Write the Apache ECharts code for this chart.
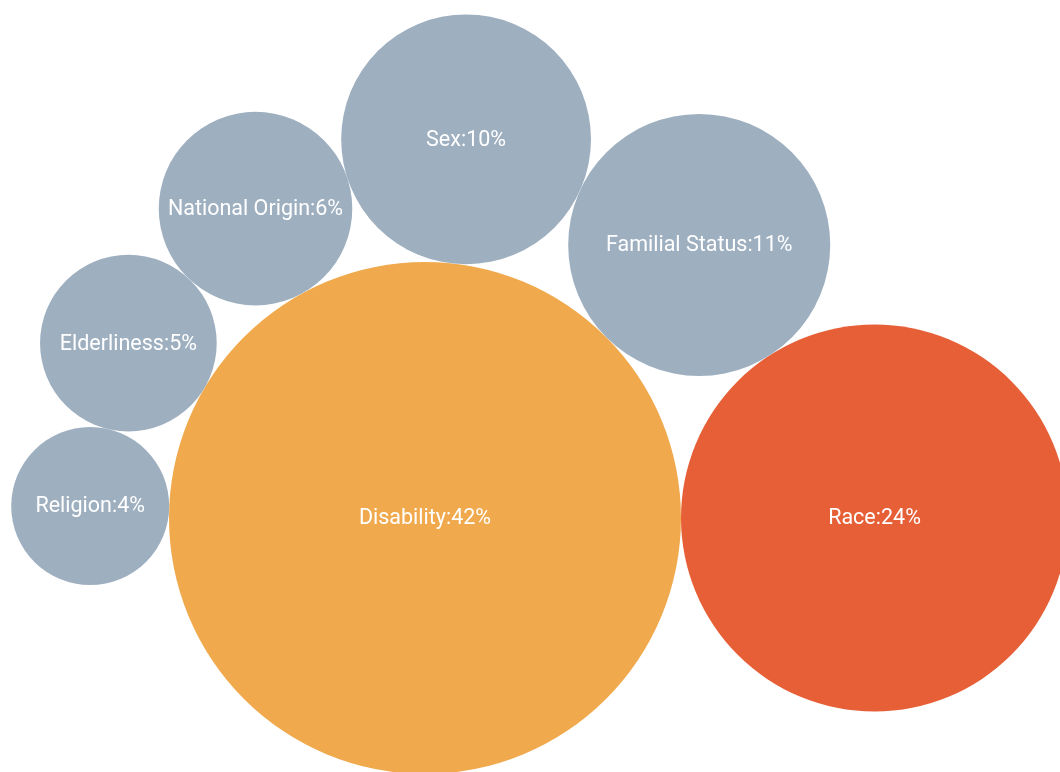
<!DOCTYPE html>
<html>
<head>
<meta charset="utf-8">
<script src="https://cdn.jsdelivr.net/npm/echarts@6/dist/echarts.min.js"></script>
<style>html,body{margin:0;padding:0;background:#fff}#c{width:1060px;height:772px}</style>
</head>
<body>
<div id="c"></div>
<script>
// Data (in packing order: largest first, then around it)
const categories = ['Disability', 'Race', 'Familial Status', 'Sex', 'National Origin', 'Elderliness', 'Religion'];
const values = [42, 24, 11, 10, 6, 5, 4];
const colors = ['#F0A94C', '#E65F37', '#9EAFC0', '#9EAFC0', '#9EAFC0', '#9EAFC0', '#9EAFC0'];

// radius scale (in axis units): area proportional to value
const R_MAX = 256;
const radius = v => R_MAX * Math.sqrt(v / Math.max(...values));

// Front-chain packing: each circle tangent to the central one and the previous one
function pack() {
  const out = [];
  const r0 = radius(values[0]);
  out.push({x: 0, y: 0, r: r0});
  const r1 = radius(values[1]);
  out.push({x: r0 + r1, y: 0, r: r1});
  for (let i = 2; i < values.length; i++) {
    const a = out[0], b = out[i - 1], r = radius(values[i]);
    const dA = a.r + r, dB = b.r + r;
    const dx = b.x - a.x, dy = b.y - a.y;
    const d = Math.hypot(dx, dy);
    const l = (dA * dA - dB * dB + d * d) / (2 * d);
    const h = Math.sqrt(Math.max(0, dA * dA - l * l));
    const ux = dx / d, uy = dy / d;
    // counter-clockwise side (y up)
    const x = a.x + ux * l - uy * h;
    const y = a.y + uy * l + ux * h;
    out.push({x, y, r});
  }
  return out;
}
const layout = pack();
const data = layout.map((p, i) => ({
  value: [p.x, p.y, p.r],
  name: categories[i],
  pct: values[i],
  itemStyle: {color: colors[i]}
}));

const chart = echarts.init(document.getElementById('c'), null, {renderer: 'canvas'});
chart.setOption({
  animation: false,
  grid: {left: 0, right: 0, top: 0, bottom: 0},
  xAxis: {type: 'value', min: -425, max: 635, show: false},
  yAxis: {type: 'value', min: -254, max: 518, show: false},
  series: [{
    type: 'custom',
    clip: true,
    data: data,
    renderItem: function (params, api) {
      const c = api.coord([api.value(0), api.value(1)]);
      const o = api.coord([0, 0]);
      const rr = api.coord([api.value(2), 0])[0] - o[0];
      const d = data[params.dataIndex];
      return {
        type: 'group',
        children: [{
          type: 'circle',
          shape: {cx: c[0], cy: c[1], r: rr},
          style: {fill: d.itemStyle.color}
        }, {
          type: 'text',
          x: c[0], y: c[1] + 1,
          style: {
            text: d.name + ':' + d.pct + '%',
            fill: '#ffffff',
            font: '21.5px Roboto, sans-serif',
            align: 'center',
            verticalAlign: 'middle'
          }
        }]
      };
    }
  }]
});
</script>
</body>
</html>
